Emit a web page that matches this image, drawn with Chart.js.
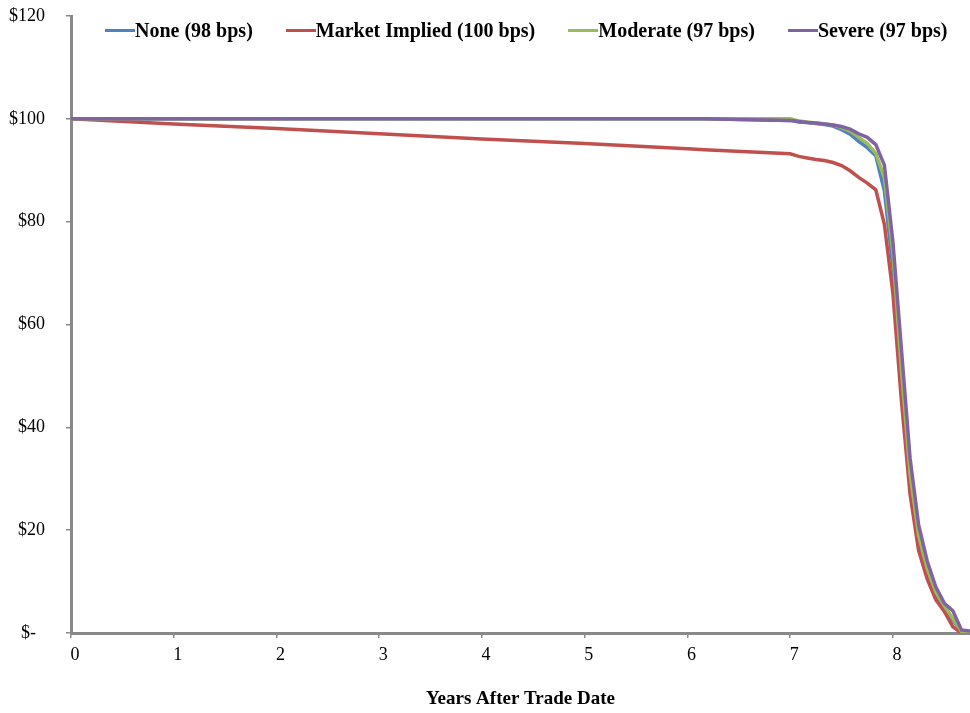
<!DOCTYPE html>
<html>
<head>
<meta charset="utf-8">
<script src="https://cdn.jsdelivr.net/npm/chart.js@4.4.0/dist/chart.umd.min.js"></script>
<style>
  body { margin: 0; background: #fff; }
  #wrap { position: relative; width: 970px; height: 713px; overflow: hidden; }
  #legend {
    position: absolute; top: 19px; left: 105px;
    display: flex; align-items: center; gap: 33px;
    font: bold 20px "Liberation Serif", serif; color: #000; white-space: nowrap;
  }
  #legend .item { display: flex; align-items: center; }
  #legend .swatch { display: inline-block; width: 30px; height: 3px; }
</style>
</head>
<body>
<div id="wrap">
  <canvas id="chart" width="970" height="713"></canvas>
  <div id="legend"></div>
</div>
<script>
// months after trade date (x axis is shown in years)
const months = [0, 12, 24, 36, 48, 60, 72, 74, 84, 85, 86, 87, 88, 89, 90, 91, 92, 93, 94, 95, 96, 97, 98, 99, 100, 101, 102, 103, 104, 105];

const seriesNames = ["None (98 bps)", "Market Implied (100 bps)", "Moderate (97 bps)", "Severe (97 bps)"];
const seriesColors = ["#4F81BD", "#C0504D", "#9BBB59", "#8064A2"];

const noneValues = [100, 100, 100, 100, 100, 100, 100, 100, 99.7, 99.4, 99.3, 99.1, 98.9, 98.6, 97.9, 97.0, 95.6, 94.4, 92.8, 86, 71, 49, 30, 18, 12, 7.5, 5, 2.5, 0.2, 0.1];
const marketValues = [100, 99.0, 98.1, 97.1, 96.1, 95.2, 94.2, 94.0, 93.2, 92.7, 92.4, 92.1, 91.9, 91.5, 90.9, 89.9, 88.6, 87.5, 86.2, 79.5, 66, 45, 27, 16, 10.5, 6.5, 4.2, 1.2, 0, 0];
const moderateValues = [100, 100, 100, 100, 100, 100, 100, 100, 100, 99.6, 99.4, 99.2, 99.0, 98.8, 98.3, 97.6, 96.4, 95.2, 93.3, 88.5, 74, 51, 31, 19, 12.5, 8, 5.3, 2.8, 0.3, 0.2];
const severeValues = [100, 100, 100, 100, 100, 100, 100, 100, 99.7, 99.5, 99.3, 99.2, 99.0, 98.8, 98.5, 98.0, 97.1, 96.4, 95.0, 91.0, 76, 55, 34, 21, 14, 9, 5.8, 4.3, 0.6, 0.4];

const yTicks = [0, 20, 40, 60, 80, 100, 120];

const allValues = [noneValues, marketValues, moderateValues, severeValues];

const axisColor = "#898989";
const tickFont = { family: "Liberation Serif", size: 18 };

const datasets = allValues.map((vals, i) => ({
  label: seriesNames[i],
  data: vals.map((v, j) => ({ x: months[j] / 12, y: v })),
  borderColor: seriesColors[i],
  backgroundColor: seriesColors[i],
  borderWidth: 3.5,
  pointRadius: 0,
  tension: 0,
  order: 3 - i, // purple on top
}));

new Chart(document.getElementById("chart"), {
  type: "line",
  data: { datasets: datasets },
  options: {
    responsive: false,
    animation: false,
    layout: { padding: { top: 16, right: 0, left: 0, bottom: 0 } },
    plugins: {
      legend: { display: false },
      tooltip: { enabled: false },
    },
    scales: {
      x: {
        type: "linear",
        min: 0,
        max: 8.75,
        afterFit: (scale) => {
          scale.height = 80;
          scale.paddingLeft = 0;
          scale.paddingRight = 0;
        },
        ticks: {
          stepSize: 1,
          includeBounds: false,
          color: "#000",
          font: tickFont,
          padding: 6,
          labelOffset: 4,
          callback: (v) => (Number.isInteger(v) ? v : ""),
        },
        grid: { drawOnChartArea: false, drawTicks: true, tickLength: 5, color: axisColor, lineWidth: 1.5 },
        border: { display: true, color: axisColor, width: 3 },
        title: {
          display: true,
          text: "Years After Trade Date",
          color: "#000",
          font: { family: "Liberation Serif", size: 19, weight: "bold" },
          padding: { top: 0, bottom: 3 },
        },
      },
      y: {
        min: 0,
        max: 120,
        afterFit: (scale) => {
          scale.width = 71;
          scale.paddingTop = 0;
          scale.paddingBottom = 0;
        },
        afterBuildTicks: (scale) => { scale.ticks = yTicks.map((v) => ({ value: v })); },
        ticks: {
          color: "#000",
          font: tickFont,
          padding: 21,
          callback: (v) => (v === 0 ? "$-  " : "$" + v),
        },
        grid: { drawOnChartArea: false, drawTicks: true, tickLength: 5, color: axisColor, lineWidth: 1.5 },
        border: { display: true, color: axisColor, width: 3 },
      },
    },
  },
});

// legend drawn as html so it can sit inside the plot area
const legendEl = document.getElementById("legend");
seriesNames.forEach((name, i) => {
  const item = document.createElement("div");
  item.className = "item";
  item.innerHTML = `<span class="swatch" style="background:${seriesColors[i]}"></span><span>${name}</span>`;
  legendEl.appendChild(item);
});
</script>
</body>
</html>
